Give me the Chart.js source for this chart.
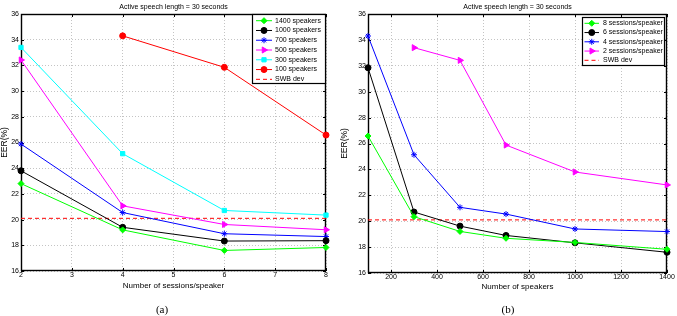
<!DOCTYPE html>
<html>
<head>
<meta charset="utf-8">
<script src="https://cdn.jsdelivr.net/npm/chart.js@4/dist/chart.umd.min.js"></script>
<style>
  body { margin: 0; background: #fff; }
  #wrap { position: relative; width: 677px; height: 316px; background: #fff; }
  canvas { position: absolute; top: 0; }
  .cap { position: absolute; top: 303px; width: 40px; text-align: center; will-change: transform;
         font: 11px "Liberation Serif", "DejaVu Serif", serif; line-height: 13px; color: #000; }
</style>
</head>
<body>
<div id="wrap">
  <canvas id="chart-a" width="338" height="300" style="left:0"></canvas>
  <canvas id="chart-b" width="339" height="300" style="left:338px"></canvas>
  <div class="cap" style="left:142px">(a)</div>
  <div class="cap" style="left:488px">(b)</div>
</div>
<script>
// EER values
const sessions = [2, 4, 6, 8];
const speakers = [100, 300, 500, 700, 1000, 1400];

// EER(%) per speaker count, one value per sessions/speaker (2, 4, 6, 8)
const eer1400 = [22.8, 19.2, 17.6, 17.83];
const eer1000 = [23.8, 19.4, 18.33, 18.36];
const eer700 = [25.88, 20.55, 18.9, 18.68];
const eer500 = [32.42, 21.07, 19.62, 19.21];
const eer300 = [33.4, 25.13, 20.71, 20.35];
const eer100 = [null, 34.3, 31.85, 26.58];
const swbDev = 20.1;

const eerTicks = [16, 18, 20, 22, 24, 26, 28, 30, 32, 34, 36];
const sessionTicks = [2, 3, 4, 5, 6, 7, 8];
const speakerTicks = [200, 400, 600, 800, 1000, 1200, 1400];

const titleText = 'Active speech length = 30 seconds';

Chart.defaults.font.family = '"Liberation Sans", Arial, sans-serif';
Chart.defaults.color = '#000';

// axes box with inward tick marks
const frame = {
    id: 'frame',
    beforeDatasetsDraw(chart) {
        const ctx = chart.ctx;
        const a = chart.chartArea;
        const xs = chart.scales.x, ys = chart.scales.y;
        ctx.save();
        ctx.strokeStyle = '#000';
        ctx.lineWidth = 1;
        ctx.beginPath();
        xs.ticks.forEach(t => {
            const px = Math.round(xs.getPixelForValue(t.value)) + 0.5;
            ctx.moveTo(px, a.bottom); ctx.lineTo(px, a.bottom - 3);
            ctx.moveTo(px, a.top); ctx.lineTo(px, a.top + 3);
        });
        ys.ticks.forEach(t => {
            const py = Math.round(ys.getPixelForValue(t.value)) + 0.5;
            ctx.moveTo(a.left, py); ctx.lineTo(a.left + 3, py);
            ctx.moveTo(a.right, py); ctx.lineTo(a.right - 3, py);
        });
        ctx.stroke();
        ctx.lineWidth = 1.4;
        ctx.strokeRect(a.left + 0.5, a.top + 0.5, a.right - a.left - 1, a.bottom - a.top - 1);
        ctx.restore();
    }
};

// matlab style legend box inside the axes
const boxLegend = {
    id: 'boxLegend',
    afterDatasetsDraw(chart, args, o) {
        const ctx = chart.ctx;
        const a = chart.chartArea;
        const left = Math.round(a.right - o.right - o.width);
        const top = Math.round(a.top + o.top);
        ctx.save();
        ctx.fillStyle = '#fff';
        ctx.fillRect(left, top, o.width, o.height);
        ctx.strokeStyle = '#000';
        ctx.lineWidth = 1.2;
        ctx.strokeRect(left + 0.5, top + 0.5, o.width, o.height);
        ctx.font = o.fontSize + 'px "Liberation Sans", Arial, sans-serif';
        ctx.textBaseline = 'middle';
        chart.data.datasets.forEach((ds, i) => {
            const y = top + o.firstRow + i * o.rowHeight;
            ctx.strokeStyle = ds.borderColor;
            ctx.lineWidth = 1;
            ctx.setLineDash(ds.borderDash || []);
            ctx.beginPath();
            ctx.moveTo(left + o.lineStart, y);
            ctx.lineTo(left + o.lineEnd, y);
            ctx.stroke();
            ctx.setLineDash([]);
            if (ds.pointRadius > 0) {
                ctx.fillStyle = ds.backgroundColor;
                Chart.helpers.drawPoint(ctx, {
                    pointStyle: ds.pointStyle, radius: ds.pointRadius,
                    rotation: ds.pointRotation || 0, borderWidth: 1
                }, left + (o.lineStart + o.lineEnd) / 2, y);
            }
            ctx.fillStyle = '#000';
            ctx.fillText(ds.label, left + o.textX, y);
        });
        ctx.restore();
    }
};

function series(label, color, style, points, extra) {
    return Object.assign({
        label: label,
        data: points,
        borderColor: color,
        backgroundColor: color,
        borderWidth: 1,
        pointStyle: style,
        pointRadius: 3,
        pointBorderWidth: 1,
        pointBackgroundColor: color,
        pointBorderColor: color,
        tension: 0,
        clip: false
    }, extra || {});
}

function swbLine(xFirst, xLast) {
    return series('SWB dev', '#ff0000', false, [{x: xFirst, y: swbDev}, {x: xLast, y: swbDev}],
        {borderDash: [4, 3], pointRadius: 0});
}

function axes(xMin, xMax, xTicks, xTitle, yWidth, xHeight, xTitlePad, yTitlePad) {
    const grid = { color: '#c4c4c4', lineWidth: 1, drawTicks: false };
    return {
        x: {
            type: 'linear', min: xMin, max: xMax,
            afterBuildTicks: s => { s.ticks = xTicks.map(v => ({value: v})); },
            afterFit: s => { s.height = xHeight; },
            ticks: { font: {size: 7}, padding: 0, maxRotation: 0, color: '#000', callback: v => String(v) },
            grid: grid,
            border: { display: false, dash: [1, 2] },
            title: { display: true, text: xTitle, font: {size: 8}, color: '#000', padding: {top: 0, bottom: xTitlePad} }
        },
        y: {
            min: 16, max: 36,
            afterBuildTicks: s => { s.ticks = eerTicks.map(v => ({value: v})); },
            afterFit: s => { s.width = yWidth; },
            ticks: { font: {size: 7}, padding: 2, color: '#000', callback: v => String(v) },
            grid: grid,
            border: { display: false, dash: [1, 2] },
            title: { display: true, text: 'EER(%)', font: {size: 8.5}, color: '#000', padding: {top: yTitlePad, bottom: 0} }
        }
    };
}

function baseOptions(scales, padRight, legendOpts) {
    return {
        responsive: false,
        animation: false,
        devicePixelRatio: 1,
        layout: { padding: { left: 0, right: padRight, top: 0, bottom: 0 } },
        scales: scales,
        plugins: {
            legend: { display: false },
            tooltip: { enabled: false },
            title: {
                display: true, text: titleText, fullSize: false,
                font: {size: 7, weight: 'normal'}, color: '#000',
                padding: {top: 3, bottom: 2.6}
            },
            boxLegend: legendOpts
        }
    };
}

// (a) x = sessions/speaker, one line per speaker count
function bySessions(vals) {
    return sessions.map((s, i) => ({x: s, y: vals[i]})).filter(p => p.y !== null);
}

new Chart(document.getElementById('chart-a'), {
    type: 'line',
    data: {
        datasets: [
            series('1400 speakers', '#00ff00', 'rectRot', bySessions(eer1400)),
            series('1000 speakers', '#000000', 'circle', bySessions(eer1000)),
            series('700 speakers', '#0000ff', 'star', bySessions(eer700)),
            series('500 speakers', '#ff00ff', 'triangle', bySessions(eer500), {pointRotation: 90, pointRadius: 3.5}),
            series('300 speakers', '#00ffff', 'rect', bySessions(eer300)),
            series('100 speakers', '#ff0000', 'circle', bySessions(eer100)),
            swbLine(sessions[0], sessions[sessions.length - 1])
        ]
    },
    options: baseOptions(axes(2, 8, sessionTicks, 'Number of sessions/speaker', 21, 29, 9.5, 0), 12,
        {right: 1, width: 73, top: 0, height: 69, firstRow: 6.7, rowHeight: 9.77,
         lineStart: 4, lineEnd: 20, textX: 23, fontSize: 7}),
    plugins: [frame, boxLegend]
});

// (b) x = number of speakers, one line per sessions/speaker
const bySpeakerCount = [eer100, eer300, eer500, eer700, eer1000, eer1400];
function bySpeakers(sessionIdx) {
    return speakers.map((n, k) => ({x: n, y: bySpeakerCount[k][sessionIdx]})).filter(p => p.y !== null);
}

new Chart(document.getElementById('chart-b'), {
    type: 'line',
    data: {
        datasets: [
            series('8 sessions/speaker', '#00ff00', 'rectRot', bySpeakers(3)),
            series('6 sessions/speaker', '#000000', 'circle', bySpeakers(2)),
            series('4 sessions/speaker', '#0000ff', 'star', bySpeakers(1)),
            series('2 sessions/speaker', '#ff00ff', 'triangle', bySpeakers(0), {pointRotation: 90, pointRadius: 3.5}),
            swbLine(speakers[0], speakers[speakers.length - 1])
        ]
    },
    options: baseOptions(axes(100, 1400, speakerTicks, 'Number of speakers', 30, 27, 8, 1.5), 10,
        {right: 3, width: 82, top: 3, height: 48, firstRow: 6.3, rowHeight: 9.25,
         lineStart: 2.5, lineEnd: 17, textX: 21, fontSize: 7}),
    plugins: [frame, boxLegend]
});
</script>
</body>
</html>
